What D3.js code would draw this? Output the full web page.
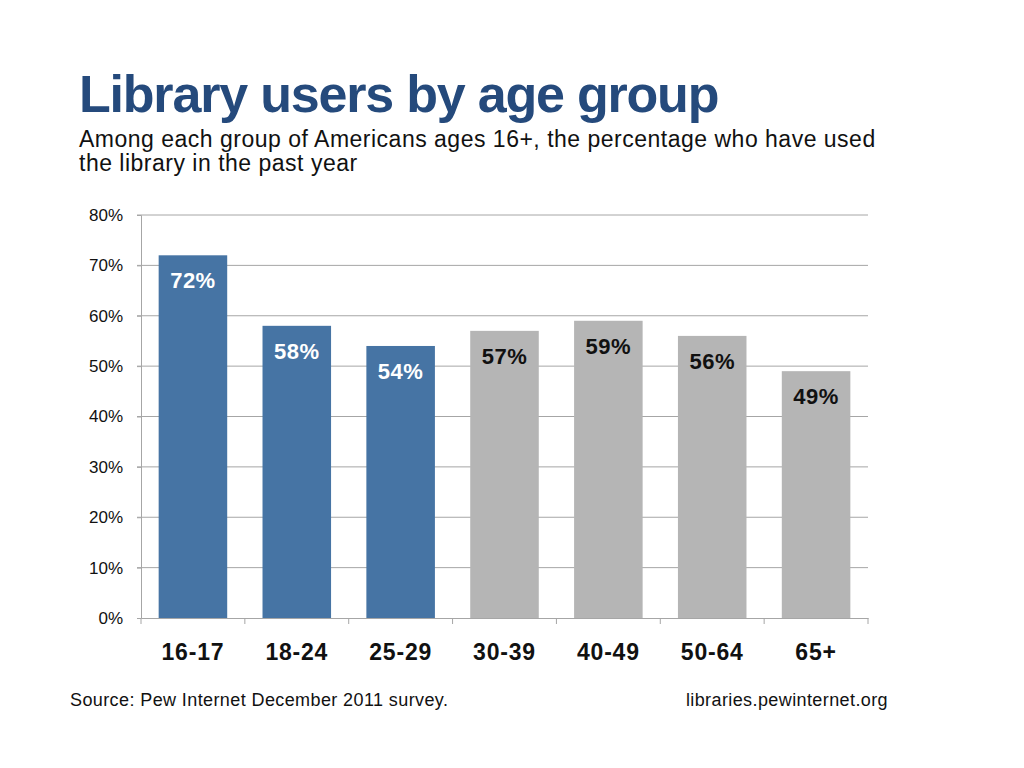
<!DOCTYPE html>
<html>
<head>
<meta charset="utf-8">
<script src="https://cdn.jsdelivr.net/npm/d3@7"></script>
<style>
  body { margin: 0; background: #fff; }
  text { font-family: "Liberation Sans", Arial, sans-serif; }
</style>
</head>
<body>
<div id="chart"></div>
<script>
// Library users by age group - Pew Internet Dec 2011

const ageGroups = ["16-17", "18-24", "25-29", "30-39", "40-49", "50-64", "65+"];
const usedLibrary = [72, 58, 54, 57, 59, 56, 49];
const highlighted = ["16-17", "18-24", "25-29"];
const yTicks = [0, 10, 20, 30, 40, 50, 60, 70, 80];

const width = 1024;
const height = 768;
const margin = { top: 215, right: 156, bottom: 150, left: 141 };

const svg = d3.select("#chart").append("svg")
    .attr("width", width)
    .attr("height", height);

// Title block
svg.append("text")
    .attr("x", 79)
    .attr("y", 112)
    .style("font-size", "52px")
    .style("font-weight", "bold")
    .style("letter-spacing", "-1.2px")
    .style("fill", "#254a7c")
    .text("Library users by age group");

svg.append("text")
    .attr("x", 79)
    .attr("y", 147)
    .style("font-size", "23px")
    .style("letter-spacing", "0.5px")
    .style("fill", "#111")
    .text("Among each group of Americans ages 16+, the percentage who have used");

svg.append("text")
    .attr("x", 79)
    .attr("y", 171)
    .style("font-size", "23px")
    .style("letter-spacing", "0.5px")
    .style("fill", "#111")
    .text("the library in the past year");

const x = d3.scaleBand()
    .domain(ageGroups)
    .range([margin.left, width - margin.right])
    .paddingInner(0.34)
    .paddingOuter(0.17);

const y = d3.scaleLinear()
    .domain([0, 80])
    .range([height - margin.bottom, margin.top]);

// Gridlines
svg.append("g")
    .selectAll("line")
    .data(yTicks.filter(d => d > 0))
    .enter()
    .append("line")
    .attr("x1", margin.left - 4)
    .attr("x2", width - margin.right)
    .attr("y1", d => y(d))
    .attr("y2", d => y(d))
    .attr("stroke", "#a6a6a6")
    .attr("stroke-width", 1);

// Y axis
const yAxis = svg.append("g")
    .attr("transform", `translate(${margin.left},0)`)
    .call(d3.axisLeft(y).tickValues(yTicks).tickFormat(d => d + "%").tickSize(4).tickPadding(14));
yAxis.select(".domain").attr("stroke", "#a6a6a6");
yAxis.selectAll(".tick line").attr("stroke", "#a6a6a6");
yAxis.selectAll(".tick text")
    .style("font-family", "'Liberation Sans', Arial, sans-serif")
    .style("font-size", "17px")
    .style("fill", "#111");

// Bars
const data = ageGroups.map((g, i) => ({ group: g, value: usedLibrary[i] }));

svg.append("g")
    .selectAll("rect")
    .data(data)
    .enter()
    .append("rect")
    .attr("x", d => x(d.group))
    .attr("width", x.bandwidth())
    .attr("y", d => y(d.value))
    .attr("height", d => y(0) - y(d.value))
    .attr("fill", d => highlighted.includes(d.group) ? "#4674a4" : "#b5b5b5");

// X axis
const xAxis = svg.append("g")
    .attr("transform", `translate(0,${y(0)})`)
    .call(d3.axisBottom(x).tickSize(0).tickPadding(21));
xAxis.select(".domain").attr("stroke", "#a6a6a6");
xAxis.selectAll(".tick text")
    .style("font-family", "'Liberation Sans', Arial, sans-serif")
    .style("font-size", "23px")
    .style("font-weight", "bold")
    .style("letter-spacing", "0.8px")
    .style("fill", "#111")
    .attr("dy", "0.9em");

// Tick marks between categories
const step = x.step();
svg.append("g")
    .selectAll("line")
    .data(d3.range(ageGroups.length + 1))
    .enter()
    .append("line")
    .attr("x1", i => margin.left + i * step)
    .attr("x2", i => margin.left + i * step)
    .attr("y1", y(0))
    .attr("y2", y(0) + 6)
    .attr("stroke", "#a6a6a6");

// Value labels
svg.append("g")
    .selectAll("text")
    .data(data)
    .enter()
    .append("text")
    .attr("x", d => x(d.group) + x.bandwidth() / 2)
    .attr("y", d => y(d.value) + 33)
    .attr("text-anchor", "middle")
    .style("font-family", "'Liberation Sans', Arial, sans-serif")
    .style("font-size", "22px")
    .style("font-weight", "bold")
    .style("letter-spacing", "0.5px")
    .style("fill", d => highlighted.includes(d.group) ? "#fff" : "#111")
    .text(d => d.value + "%");

// Footer
svg.append("text")
    .attr("x", 70)
    .attr("y", 706)
    .style("font-family", "'Liberation Sans', Arial, sans-serif")
    .style("font-size", "18px")
    .style("letter-spacing", "0.4px")
    .style("fill", "#111")
    .text("Source: Pew Internet December 2011 survey.");

svg.append("text")
    .attr("x", 888)
    .attr("y", 706)
    .attr("text-anchor", "end")
    .style("font-family", "'Liberation Sans', Arial, sans-serif")
    .style("font-size", "18px")
    .style("letter-spacing", "0.4px")
    .style("fill", "#111")
    .text("libraries.pewinternet.org");
</script>
</body>
</html>
